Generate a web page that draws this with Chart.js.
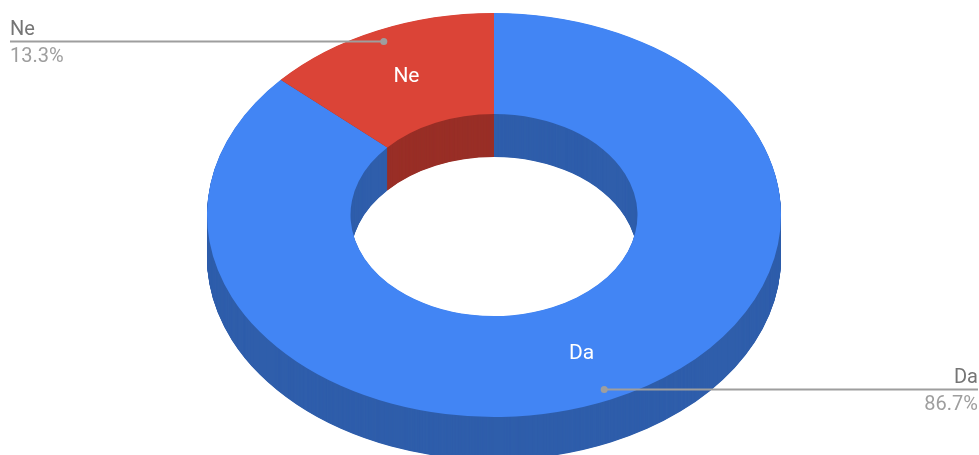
<!DOCTYPE html>
<html>
<head>
<meta charset="utf-8">
<script src="https://cdn.jsdelivr.net/npm/chart.js@4/dist/chart.umd.min.js"></script>
<style>
  html, body { margin: 0; padding: 0; background: #ffffff; }
  canvas { display: block; }
</style>
</head>
<body>
<canvas id="c" width="979" height="455"></canvas>
<script>
// ---- data ----
const categories = ['Da', 'Ne'];
const counts = [13, 2];

// ---- style ----
const topColors = ['#4285f4', '#db4437'];
const sideColors = ['#2f5eab', '#992f27'];
const CX = 494, CY = 215, RX = 287, RY = 202, DEPTH = 43;
const FONT = 'Roboto, "Noto Sans", Arial, sans-serif';

const total = counts.reduce((a, b) => a + b, 0);
const pctLabels = counts.map(v => (v / total * 100).toFixed(1) + '%');

function mapPt(arc, ang, rr) {
  const r = arc.outerRadius;
  return {
    x: CX + Math.cos(ang) * rr * RX / r,
    y: CY + Math.sin(ang) * rr * RY / r
  };
}

const tilt = {
  id: 'tilt',
  beforeDatasetsDraw(chart) {
    const ctx = chart.ctx;
    const meta = chart.getDatasetMeta(0);
    const a0 = meta.data[0];
    const r = a0.outerRadius;
    const apply = (dy) => {
      ctx.translate(CX, CY + dy);
      ctx.scale(RX / r, RY / r);
      ctx.translate(-a0.x, -a0.y);
    };
    for (let d = DEPTH; d >= 0.5; d -= 0.5) {
      ctx.save();
      apply(d);
      meta.data.forEach((arc, i) => {
        const orig = arc.options;
        arc.options = Object.assign({}, orig, { backgroundColor: sideColors[i], borderWidth: 0 });
        arc.draw(ctx);
        arc.options = orig;
      });
      ctx.restore();
    }
    ctx.save();
    apply(0);
  },
  afterDatasetsDraw(chart) {
    const ctx = chart.ctx;
    ctx.restore();
    const meta = chart.getDatasetMeta(0);
    meta.data.forEach((arc, i) => {
      const mid = (arc.startAngle + arc.endAngle) / 2;
      const r = arc.outerRadius;
      // in-slice label
      const lp = mapPt(arc, mid, (arc.innerRadius + r) / 2);
      ctx.save();
      ctx.fillStyle = '#ffffff';
      ctx.font = '21px ' + FONT;
      ctx.textAlign = 'center';
      ctx.textBaseline = 'middle';
      ctx.fillText(categories[i], lp.x, lp.y);
      ctx.restore();
      // leader line
      const dp = mapPt(arc, mid, r * 0.944);
      const left = dp.x < CX;
      const endX = left ? 10 : 978;
      const ly = Math.round(dp.y) + 0.5;
      ctx.save();
      ctx.strokeStyle = '#9e9e9e';
      ctx.lineWidth = 2;
      ctx.beginPath();
      ctx.moveTo(dp.x, ly);
      ctx.lineTo(endX, ly);
      ctx.stroke();
      ctx.fillStyle = '#9e9e9e';
      ctx.beginPath();
      ctx.arc(dp.x, ly, 3.5, 0, Math.PI * 2);
      ctx.fill();
      ctx.font = '20px ' + FONT;
      ctx.textAlign = left ? 'left' : 'right';
      ctx.textBaseline = 'alphabetic';
      ctx.fillStyle = '#757575';
      ctx.fillText(categories[i], endX, ly - 6.5);
      ctx.fillStyle = '#9e9e9e';
      ctx.fillText(pctLabels[i], endX, ly + 20);
      ctx.restore();
    });
  }
};

new Chart(document.getElementById('c'), {
  type: 'doughnut',
  data: {
    labels: categories,
    datasets: [{
      data: counts,
      backgroundColor: topColors,
      borderWidth: 0,
      hoverOffset: 0,
      offset: 0,
      clip: false
    }]
  },
  options: {
    responsive: false,
    animation: false,
    cutout: '50%',
    layout: { padding: { top: 13, bottom: 38, left: 9, right: 0 } },
    events: [],
    plugins: { legend: { display: false }, tooltip: { enabled: false } }
  },
  plugins: [tilt]
});
</script>
</body>
</html>
